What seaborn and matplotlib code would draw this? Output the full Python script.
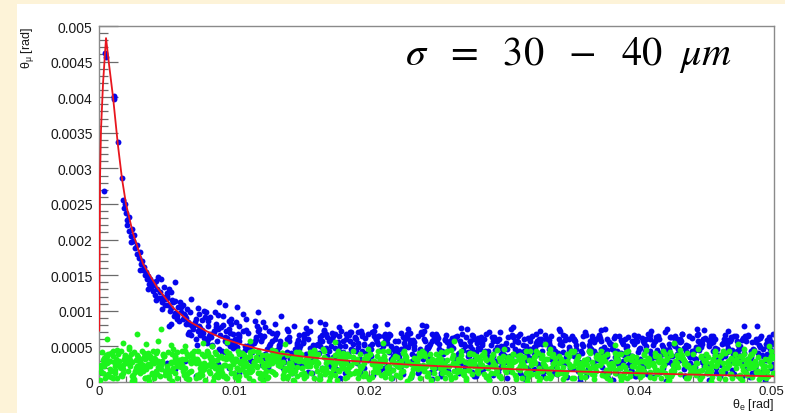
import matplotlib
matplotlib.use("Agg")
import matplotlib.pyplot as plt
from matplotlib.patches import Rectangle
from matplotlib.ticker import MultipleLocator, FuncFormatter
from matplotlib.transforms import ScaledTranslation
import pandas as pd
import seaborn as sns

# ---------------------------------------------------------------------------
# Data (angles in mrad; converted to rad when plotted)
# ---------------------------------------------------------------------------

# Fitted correlation curve theta_mu(theta_e)
fit_x = [0.02, 0.05, 0.08, 0.15, 0.30, 0.52, 0.75, 1.04, 1.40, 1.70, 2.00, 2.50,
         3.26, 4.30, 5.50, 6.70, 8.00, 9.20, 10.5, 11.7, 13.4, 15.0, 16.5, 18.4,
         20.8, 23.3, 25.5, 28.2, 30.7, 35.0, 40.6, 45.0, 50.0]
fit_y = [0.72, 2.00, 2.90, 3.55, 4.20, 4.83, 4.45, 4.00, 3.33, 2.86, 2.50, 2.10,
         1.66, 1.33, 1.04, 0.85, 0.71, 0.61, 0.53, 0.47, 0.40, 0.36, 0.33, 0.30,
         0.27, 0.24, 0.22, 0.20, 0.18, 0.15, 0.12, 0.10, 0.08]

# Reconstructed events (blue)
blue_x = [
    # steep part along the curve
    0.05, 0.40, 0.42, 0.55, 1.08, 1.14, 1.12, 1.42, 1.72, 1.80, 1.85, 1.95,
    2.00, 2.05, 2.10, 2.20, 2.25, 2.35, 2.45, 2.55, 2.60, 2.70, 2.80, 2.85,
    2.95, 3.05, 3.10, 3.20, 3.25, 3.35, 3.40, 3.50, 3.55, 3.65, 3.70, 3.80,
    3.85, 3.95, 4.00, 4.10, 4.15, 4.25, 4.30, 4.40, 4.45, 4.55, 4.60, 4.65,
    4.75, 4.80, 4.90, 4.95, 3.00, 2.40, 3.60, 4.20, 4.70, 5.00,
    # knee
    5.1, 5.8, 5.4, 5.0, 5.6, 5.3, 5.9, 5.2, 5.7, 5.5, 5.35, 5.65,
    6.3, 6.9, 6.5, 6.2, 6.7, 6.0, 6.6, 6.4, 6.8, 6.1, 6.45, 6.75,
    7.6, 7.2, 7.8, 7.4, 7.0, 7.9, 7.3, 7.7, 7.1, 7.5, 7.85, 7.25,
    8.5, 8.0, 8.7, 8.3, 8.9, 8.2, 8.8, 8.1, 8.6, 8.4, 8.05, 8.95,
    9.8, 9.4, 9.1, 9.6, 9.3, 9.7, 9.0, 9.5, 9.9, 9.2, 9.45, 9.75,
    10.1, 10.8, 10.4, 10.0, 10.6, 10.3, 10.9, 10.2, 10.7, 10.5, 10.35, 10.65,
    11.3, 11.9, 11.5, 11.2, 11.7, 11.0, 11.6, 11.4, 11.8, 11.1, 11.55, 11.85,
    12.6, 12.2, 12.8, 12.4, 12.0, 12.9, 12.3, 12.7, 12.1, 12.5, 12.65, 12.15,
    13.5, 13.0, 13.7, 13.3, 13.9, 13.2, 13.8, 13.1, 13.6, 13.4, 13.05, 13.95,
    14.8, 14.4, 14.1, 14.6, 14.3, 14.7, 14.0, 14.5, 14.9, 14.2, 14.45, 14.75,
    # flat band
    15.1, 15.8, 15.4, 15.0, 15.6, 15.3, 15.9, 15.2, 15.7, 15.5, 15.15, 15.45, 15.85, 15.65,
    16.3, 16.9, 16.5, 16.2, 16.7, 16.0, 16.6, 16.4, 16.8, 16.1, 16.55, 16.95, 16.35, 16.75,
    17.6, 17.2, 17.8, 17.4, 17.0, 17.9, 17.3, 17.7, 17.1, 17.5, 17.85, 17.25, 17.65, 17.45,
    18.5, 18.0, 18.7, 18.3, 18.9, 18.2, 18.8, 18.1, 18.6, 18.4, 18.05, 18.75, 18.35, 18.95,
    19.8, 19.4, 19.1, 19.6, 19.3, 19.7, 19.0, 19.5, 19.9, 19.2, 19.65, 19.15, 19.45, 19.85,
    20.1, 20.8, 20.4, 20.0, 20.6, 20.3, 20.9, 20.2, 20.7, 20.5, 20.15, 20.45, 20.85, 20.65,
    21.3, 21.9, 21.5, 21.2, 21.7, 21.0, 21.6, 21.4, 21.8, 21.1, 21.55, 21.95, 21.35, 21.75,
    22.6, 22.2, 22.8, 22.4, 22.0, 22.9, 22.3, 22.7, 22.1, 22.5, 22.85, 22.25, 22.65, 22.45,
    23.5, 23.0, 23.7, 23.3, 23.9, 23.2, 23.8, 23.1, 23.6, 23.4, 23.05, 23.75, 23.35, 23.95,
    24.8, 24.4, 24.1, 24.6, 24.3, 24.7, 24.0, 24.5, 24.9, 24.2, 24.65, 24.15, 24.45, 24.85,
    25.1, 25.8, 25.4, 25.0, 25.6, 25.3, 25.9, 25.2, 25.7, 25.5, 25.15, 25.45, 25.85, 25.65,
    26.3, 26.9, 26.5, 26.2, 26.7, 26.0, 26.6, 26.4, 26.8, 26.1, 26.55, 26.95, 26.35, 26.75,
    27.6, 27.2, 27.8, 27.4, 27.0, 27.9, 27.3, 27.7, 27.1, 27.5, 27.85, 27.25, 27.65, 27.45,
    28.5, 28.0, 28.7, 28.3, 28.9, 28.2, 28.8, 28.1, 28.6, 28.4, 28.05, 28.75, 28.35, 28.95,
    29.8, 29.4, 29.1, 29.6, 29.3, 29.7, 29.0, 29.5, 29.9, 29.2, 29.65, 29.15, 29.45, 29.85,
    30.1, 30.8, 30.4, 30.0, 30.6, 30.3, 30.9, 30.2, 30.7, 30.5, 30.15, 30.45, 30.85, 30.65,
    31.3, 31.9, 31.5, 31.2, 31.7, 31.0, 31.6, 31.4, 31.8, 31.1, 31.55, 31.95, 31.35, 31.75,
    32.6, 32.2, 32.8, 32.4, 32.0, 32.9, 32.3, 32.7, 32.1, 32.5, 32.85, 32.25, 32.65, 32.45,
    33.5, 33.0, 33.7, 33.3, 33.9, 33.2, 33.8, 33.1, 33.6, 33.4, 33.05, 33.75, 33.35, 33.95,
    34.8, 34.4, 34.1, 34.6, 34.3, 34.7, 34.0, 34.5, 34.9, 34.2, 34.65, 34.15, 34.45, 34.85,
    35.1, 35.8, 35.4, 35.0, 35.6, 35.3, 35.9, 35.2, 35.7, 35.5, 35.15, 35.45, 35.85, 35.65,
    36.3, 36.9, 36.5, 36.2, 36.7, 36.0, 36.6, 36.4, 36.8, 36.1, 36.55, 36.95, 36.35, 36.75,
    37.6, 37.2, 37.8, 37.4, 37.0, 37.9, 37.3, 37.7, 37.1, 37.5, 37.85, 37.25, 37.65, 37.45,
    38.5, 38.0, 38.7, 38.3, 38.9, 38.2, 38.8, 38.1, 38.6, 38.4, 38.05, 38.75, 38.35, 38.95,
    39.8, 39.4, 39.1, 39.6, 39.3, 39.7, 39.0, 39.5, 39.9, 39.2, 39.65, 39.15, 39.45, 39.85,
    40.1, 40.8, 40.4, 40.0, 40.6, 40.3, 40.9, 40.2, 40.7, 40.5, 40.15, 40.45, 40.85, 40.65,
    41.3, 41.9, 41.5, 41.2, 41.7, 41.0, 41.6, 41.4, 41.8, 41.1, 41.55, 41.95, 41.35, 41.75,
    42.6, 42.2, 42.8, 42.4, 42.0, 42.9, 42.3, 42.7, 42.1, 42.5, 42.85, 42.25, 42.65, 42.45,
    43.5, 43.0, 43.7, 43.3, 43.9, 43.2, 43.8, 43.1, 43.6, 43.4, 43.05, 43.75, 43.35, 43.95,
    44.8, 44.4, 44.1, 44.6, 44.3, 44.7, 44.0, 44.5, 44.9, 44.2, 44.65, 44.15, 44.45, 44.85,
    45.1, 45.8, 45.4, 45.0, 45.6, 45.3, 45.9, 45.2, 45.7, 45.5, 45.15, 45.45, 45.85, 45.65,
    46.3, 46.9, 46.5, 46.2, 46.7, 46.0, 46.6, 46.4, 46.8, 46.1, 46.55, 46.95, 46.35, 46.75,
    47.6, 47.2, 47.8, 47.4, 47.0, 47.9, 47.3, 47.7, 47.1, 47.5, 47.85, 47.25, 47.65, 47.45,
    48.5, 48.0, 48.7, 48.3, 48.9, 48.2, 48.8, 48.1, 48.6, 48.4, 48.05, 48.75, 48.35, 48.95,
    49.8, 49.4, 49.1, 49.6, 49.3, 49.7, 49.0, 49.5, 49.9, 49.2, 49.65, 49.15, 49.45, 49.85,
    # stragglers
    16.4, 21.3, 24.2, 26.8, 30.5, 34.1, 37.2, 40.9, 44.3, 46.6, 49.9, 19.0,
    13.5, 11.8, 10.2, 8.9, 9.3, 17.8, 28.9, 32.7, 42.1, 47.8, 5.6, 7.2,
    8.8, 10.4, 12.1, 6.4, 5.0, 9.6, 11.2,
    # second pass over knee and band
    5.25, 5.75, 5.05, 5.55, 5.35, 5.85, 5.15, 5.65,
    6.45, 6.95, 6.2, 6.7, 6.1, 6.6, 6.3, 6.8,
    7.05, 7.5, 7.9, 7.35, 7.65, 7.15, 7.8, 7.4,
    8.25, 8.75, 8.05, 8.55, 8.35, 8.85, 8.15, 8.65,
    9.45, 9.95, 9.2, 9.7, 9.1, 9.6, 9.3, 9.8,
    10.05, 10.5, 10.9, 10.35, 10.65, 10.15, 10.8, 10.4,
    11.25, 11.75, 11.05, 11.55, 11.35, 11.85, 11.15, 11.65,
    12.45, 12.95, 12.2, 12.7, 12.1, 12.6, 12.3, 12.8,
    13.05, 13.5, 13.9, 13.35, 13.65, 13.15, 13.8, 13.4,
    14.25, 14.75, 14.05, 14.55, 14.35, 14.85, 14.15, 14.65,
    15.45, 15.95, 15.2, 15.7, 15.1, 15.6, 15.3, 15.8,
    16.05, 16.5, 16.9, 16.35, 16.65, 16.15, 16.8, 16.4,
    17.25, 17.75, 17.05, 17.55, 17.35, 17.85, 17.15, 17.65,
    18.45, 18.95, 18.2, 18.7, 18.1, 18.6, 18.3, 18.8,
    19.05, 19.5, 19.9, 19.35, 19.65, 19.15, 19.8, 19.4,
    20.25, 20.75, 20.05, 20.55, 20.35, 20.85, 20.15, 20.65,
    21.45, 21.95, 21.2, 21.7, 21.1, 21.6, 21.3, 21.8,
    22.05, 22.5, 22.9, 22.35, 22.65, 22.15, 22.8, 22.4,
    23.25, 23.75, 23.05, 23.55, 23.35, 23.85, 23.15, 23.65,
    24.45, 24.95, 24.2, 24.7, 24.1, 24.6, 24.3, 24.8,
    25.05, 25.5, 25.9, 25.35, 25.65, 25.15, 25.8, 25.4,
    26.25, 26.75, 26.05, 26.55, 26.35, 26.85, 26.15, 26.65,
    27.45, 27.95, 27.2, 27.7, 27.1, 27.6, 27.3, 27.8,
    28.05, 28.5, 28.9, 28.35, 28.65, 28.15, 28.8, 28.4,
    29.25, 29.75, 29.05, 29.55, 29.35, 29.85, 29.15, 29.65,
    30.45, 30.95, 30.2, 30.7, 30.1, 30.6, 30.3, 30.8,
    31.05, 31.5, 31.9, 31.35, 31.65, 31.15, 31.8, 31.4,
    32.25, 32.75, 32.05, 32.55, 32.35, 32.85, 32.15, 32.65,
    33.45, 33.95, 33.2, 33.7, 33.1, 33.6, 33.3, 33.8,
    34.05, 34.5, 34.9, 34.35, 34.65, 34.15, 34.8, 34.4,
    35.25, 35.75, 35.05, 35.55, 35.35, 35.85, 35.15, 35.65,
    36.45, 36.95, 36.2, 36.7, 36.1, 36.6, 36.3, 36.8,
    37.05, 37.5, 37.9, 37.35, 37.65, 37.15, 37.8, 37.4,
    38.25, 38.75, 38.05, 38.55, 38.35, 38.85, 38.15, 38.65,
    39.45, 39.95, 39.2, 39.7, 39.1, 39.6, 39.3, 39.8,
    40.05, 40.5, 40.9, 40.35, 40.65, 40.15, 40.8, 40.4,
    41.25, 41.75, 41.05, 41.55, 41.35, 41.85, 41.15, 41.65,
    42.45, 42.95, 42.2, 42.7, 42.1, 42.6, 42.3, 42.8,
    43.05, 43.5, 43.9, 43.35, 43.65, 43.15, 43.8, 43.4,
    44.25, 44.75, 44.05, 44.55, 44.35, 44.85, 44.15, 44.65,
    45.45, 45.95, 45.2, 45.7, 45.1, 45.6, 45.3, 45.8,
    46.05, 46.5, 46.9, 46.35, 46.65, 46.15, 46.8, 46.4,
    47.25, 47.75, 47.05, 47.55, 47.35, 47.85, 47.15, 47.65,
    48.45, 48.95, 48.2, 48.7, 48.1, 48.6, 48.3, 48.8,
    49.05, 49.5, 49.9, 49.35, 49.65, 49.15, 49.8, 49.4,
]
blue_y = [
    0.17, 2.68, 4.62, 4.56, 4.00, 4.02, 3.98, 3.37, 2.86, 2.56, 2.45, 2.50,
    2.38, 2.28, 2.20, 2.32, 2.12, 2.05, 2.15, 1.98, 2.06, 1.88, 1.93, 1.80,
    1.74, 1.82, 1.66, 1.70, 1.58, 1.62, 1.50, 1.55, 1.44, 1.49, 1.38, 1.45,
    1.33, 1.40, 1.28, 1.36, 1.22, 1.42, 1.30, 1.47, 1.18, 1.26, 1.44, 1.12,
    1.20, 1.33, 1.08, 1.16, 1.58, 1.96, 1.30, 1.15, 1.02, 1.25,
    1.08, 0.92, 1.15, 1.21, 0.97, 1.04, 0.86, 1.30, 0.95, 1.12, 0.82, 1.40,
    0.95, 0.78, 1.02, 0.88, 0.70, 1.12, 0.84, 0.92, 0.66, 1.05, 0.81, 0.98,
    0.73, 0.88, 0.62, 0.95, 0.80, 0.57, 1.04, 0.69, 0.84, 0.76, 0.91, 0.52,
    0.70, 0.55, 0.82, 0.63, 0.47, 0.91, 0.74, 0.60, 0.98, 0.52, 0.78, 0.66,
    0.58, 0.72, 0.44, 0.86, 0.63, 0.51, 0.77, 0.39, 0.67, 0.92, 0.55, 0.81,
    0.61, 0.45, 0.78, 0.53, 0.34, 0.68, 0.88, 0.49, 0.72, 0.40, 0.57, 0.95,
    0.42, 0.66, 0.55, 0.31, 0.79, 0.48, 0.60, 0.27, 0.71, 0.52, 0.86, 0.38,
    0.50, 0.34, 0.69, 0.25, 0.58, 0.43, 0.77, 0.37, 0.62, 0.21, 0.47, 0.84,
    0.39, 0.61, 0.28, 0.52, 0.74, 0.45, 0.18, 0.66, 0.33, 0.57, 0.81, 0.42,
    0.47, 0.29, 0.63, 0.36, 0.12, 0.55, 0.71, 0.24, 0.50, 0.40, 0.78, 0.59,
    0.56, 0.37, 0.69, 0.24, 0.48, 0.76, 0.31, 0.62, 0.43, 0.14, 0.66, 0.40, 0.52, 0.85,
    0.41, 0.63, 0.19, 0.54, 0.72, 0.33, 0.46, 0.09, 0.67, 0.38, 0.58, 0.26, 0.50, 0.81,
    0.30, 0.51, 0.64, 0.16, 0.43, 0.71, 0.35, 0.56, 0.23, 0.48, 0.06, 0.60, 0.39, 0.68,
    0.66, 0.21, 0.47, 0.60, 0.33, 0.12, 0.53, 0.42, 0.70, 0.28, 0.58, 0.45, 0.17, 0.63,
    0.38, 0.72, 0.27, 0.52, 0.15, 0.62, 0.44, 0.68, 0.31, 0.55, 0.20, 0.49, 0.65, 0.35,
    0.50, 0.31, 0.64, 0.39, 0.56, 0.10, 0.45, 0.70, 0.24, 0.60, 0.36, 0.79, 0.17, 0.53,
    0.23, 0.58, 0.42, 0.68, 0.05, 0.50, 0.32, 0.63, 0.47, 0.19, 0.66, 0.40, 0.55, 0.29,
    0.55, 0.34, 0.67, 0.22, 0.48, 0.75, 0.30, 0.61, 0.42, 0.11, 0.64, 0.38, 0.51, 0.27,
    0.37, 0.59, 0.16, 0.50, 0.68, 0.29, 0.43, 0.07, 0.64, 0.34, 0.55, 0.23, 0.46, 0.80,
    0.27, 0.48, 0.61, 0.14, 0.40, 0.67, 0.32, 0.53, 0.20, 0.45, 0.04, 0.58, 0.36, 0.64,
    0.62, 0.18, 0.43, 0.56, 0.30, 0.09, 0.49, 0.38, 0.66, 0.25, 0.54, 0.41, 0.15, 0.59,
    0.34, 0.67, 0.23, 0.48, 0.12, 0.58, 0.40, 0.63, 0.27, 0.51, 0.17, 0.45, 0.61, 0.31,
    0.46, 0.28, 0.61, 0.36, 0.53, 0.08, 0.42, 0.65, 0.21, 0.57, 0.33, 0.74, 0.14, 0.50,
    0.20, 0.55, 0.39, 0.63, 0.03, 0.47, 0.29, 0.60, 0.44, 0.16, 0.62, 0.37, 0.52, 0.26,
    0.51, 0.30, 0.63, 0.19, 0.45, 0.70, 0.28, 0.57, 0.40, 0.10, 0.60, 0.36, 0.49, 0.24,
    0.37, 0.58, 0.15, 0.50, 0.66, 0.29, 0.42, 0.06, 0.63, 0.34, 0.55, 0.22, 0.46, 0.77,
    0.26, 0.47, 0.60, 0.13, 0.39, 0.65, 0.31, 0.52, 0.20, 0.44, 0.04, 0.57, 0.35, 0.62,
    0.60, 0.18, 0.43, 0.55, 0.30, 0.09, 0.49, 0.38, 0.64, 0.25, 0.54, 0.41, 0.15, 0.58,
    0.33, 0.66, 0.22, 0.47, 0.11, 0.57, 0.39, 0.62, 0.26, 0.50, 0.16, 0.44, 0.59, 0.30,
    0.45, 0.27, 0.60, 0.35, 0.52, 0.07, 0.41, 0.64, 0.20, 0.56, 0.32, 0.72, 0.13, 0.49,
    0.19, 0.54, 0.38, 0.63, 0.02, 0.46, 0.28, 0.59, 0.43, 0.15, 0.61, 0.36, 0.51, 0.25,
    0.52, 0.31, 0.64, 0.18, 0.44, 0.70, 0.27, 0.58, 0.39, 0.09, 0.61, 0.35, 0.48, 0.23,
    0.36, 0.57, 0.14, 0.49, 0.66, 0.28, 0.41, 0.05, 0.62, 0.33, 0.54, 0.21, 0.45, 0.74,
    0.25, 0.46, 0.59, 0.12, 0.38, 0.65, 0.30, 0.51, 0.19, 0.43, 0.03, 0.56, 0.34, 0.61,
    0.61, 0.17, 0.42, 0.55, 0.29, 0.08, 0.48, 0.37, 0.64, 0.24, 0.53, 0.40, 0.14, 0.58,
    0.33, 0.66, 0.22, 0.47, 0.11, 0.57, 0.39, 0.62, 0.26, 0.50, 0.16, 0.44, 0.60, 0.30,
    0.45, 0.27, 0.60, 0.35, 0.52, 0.07, 0.41, 0.65, 0.20, 0.56, 0.32, 0.70, 0.13, 0.49,
    0.19, 0.54, 0.38, 0.63, 0.02, 0.46, 0.28, 0.59, 0.43, 0.15, 0.61, 0.36, 0.51, 0.25,
    0.52, 0.31, 0.64, 0.18, 0.44, 0.68, 0.27, 0.58, 0.39, 0.09, 0.61, 0.35, 0.48, 0.23,
    0.36, 0.57, 0.14, 0.49, 0.66, 0.28, 0.41, 0.05, 0.62, 0.33, 0.54, 0.21, 0.45, 0.73,
    0.25, 0.46, 0.59, 0.12, 0.38, 0.64, 0.30, 0.51, 0.19, 0.43, 0.03, 0.56, 0.34, 0.61,
    0.61, 0.17, 0.42, 0.55, 0.29, 0.08, 0.48, 0.37, 0.63, 0.24, 0.53, 0.40, 0.14, 0.58,
    0.33, 0.65, 0.22, 0.47, 0.11, 0.57, 0.39, 0.62, 0.26, 0.50, 0.16, 0.44, 0.59, 0.30,
    0.45, 0.27, 0.60, 0.35, 0.52, 0.07, 0.41, 0.64, 0.20, 0.56, 0.32, 0.78, 0.13, 0.49,
    0.19, 0.54, 0.38, 0.63, 0.02, 0.46, 0.28, 0.59, 0.43, 0.15, 0.61, 0.36, 0.51, 0.25,
    0.84, 0.82, 0.78, 0.76, 0.74, 0.75, 0.73, 0.71, 0.75, 0.72, 0.68, 0.80,
    0.93, 0.98, 1.05, 1.12, 1.08, 0.77, 0.70, 0.72, 0.74, 0.79, 0.18, 0.09,
    0.25, 0.12, 0.06, 0.30, 0.26, 0.20, 0.16,
    1.00, 0.88, 1.18, 0.93, 1.26, 1.06, 0.79, 1.14,
    0.90, 0.74, 1.08, 0.82, 0.99, 0.68, 0.94, 1.16,
    0.80, 0.66, 0.98, 0.71, 0.87, 0.60, 1.00, 0.78,
    0.68, 0.57, 0.86, 0.72, 0.50, 0.94, 0.64, 0.77,
    0.62, 0.48, 0.80, 0.69, 0.42, 0.74, 0.57, 0.88,
    0.56, 0.41, 0.73, 0.63, 0.37, 0.84, 0.50, 0.66,
    0.50, 0.36, 0.69, 0.58, 0.29, 0.75, 0.45, 0.63,
    0.46, 0.30, 0.64, 0.53, 0.24, 0.72, 0.40, 0.57,
    0.43, 0.26, 0.60, 0.49, 0.20, 0.69, 0.36, 0.54,
    0.41, 0.22, 0.57, 0.46, 0.17, 0.66, 0.33, 0.52,
    0.60, 0.45, 0.68, 0.32, 0.55, 0.71, 0.40, 0.12,
    0.52, 0.66, 0.37, 0.59, 0.73, 0.26, 0.48, 0.63,
    0.69, 0.43, 0.57, 0.18, 0.64, 0.51, 0.61, 0.35,
    0.39, 0.62, 0.50, 0.70, 0.31, 0.57, 0.67, 0.45,
    0.61, 0.44, 0.67, 0.33, 0.54, 0.70, 0.41, 0.11,
    0.53, 0.65, 0.36, 0.60, 0.72, 0.27, 0.47, 0.64,
    0.68, 0.42, 0.58, 0.17, 0.65, 0.50, 0.60, 0.36,
    0.40, 0.63, 0.49, 0.69, 0.30, 0.58, 0.66, 0.46,
    0.59, 0.46, 0.69, 0.31, 0.56, 0.70, 0.39, 0.13,
    0.51, 0.67, 0.38, 0.58, 0.71, 0.25, 0.49, 0.62,
    0.64, 0.39, 0.53, 0.13, 0.60, 0.47, 0.56, 0.31,
    0.35, 0.58, 0.46, 0.65, 0.27, 0.53, 0.62, 0.41,
    0.57, 0.42, 0.63, 0.29, 0.51, 0.66, 0.36, 0.08,
    0.48, 0.61, 0.33, 0.55, 0.68, 0.22, 0.44, 0.59,
    0.63, 0.40, 0.52, 0.14, 0.61, 0.46, 0.57, 0.30,
    0.36, 0.57, 0.47, 0.64, 0.28, 0.52, 0.63, 0.40,
    0.56, 0.43, 0.62, 0.30, 0.50, 0.67, 0.35, 0.09,
    0.49, 0.60, 0.34, 0.54, 0.67, 0.23, 0.45, 0.58,
    0.65, 0.38, 0.54, 0.12, 0.59, 0.48, 0.55, 0.32,
    0.34, 0.59, 0.45, 0.66, 0.26, 0.54, 0.61, 0.42,
    0.58, 0.41, 0.64, 0.28, 0.52, 0.65, 0.37, 0.07,
    0.47, 0.62, 0.32, 0.56, 0.66, 0.21, 0.43, 0.60,
    0.64, 0.39, 0.53, 0.13, 0.60, 0.47, 0.56, 0.31,
    0.35, 0.58, 0.46, 0.65, 0.27, 0.53, 0.62, 0.41,
    0.57, 0.42, 0.63, 0.29, 0.51, 0.66, 0.36, 0.08,
    0.48, 0.61, 0.33, 0.55, 0.68, 0.22, 0.44, 0.59,
    0.63, 0.40, 0.52, 0.14, 0.61, 0.46, 0.57, 0.30,
    0.36, 0.57, 0.47, 0.64, 0.28, 0.52, 0.63, 0.40,
    0.56, 0.43, 0.62, 0.30, 0.50, 0.67, 0.35, 0.09,
    0.49, 0.60, 0.34, 0.54, 0.67, 0.23, 0.45, 0.58,
    0.65, 0.38, 0.54, 0.12, 0.59, 0.48, 0.55, 0.32,
    0.34, 0.59, 0.45, 0.66, 0.26, 0.54, 0.61, 0.42,
    0.58, 0.41, 0.64, 0.28, 0.52, 0.65, 0.37, 0.07,
    0.47, 0.62, 0.32, 0.56, 0.66, 0.21, 0.43, 0.60,
    0.64, 0.39, 0.53, 0.13, 0.60, 0.47, 0.56, 0.31,
]

# Background events (green)
green_x = [
    0.1, 0.7, 0.4, 0.9, 0.2, 0.6, 0.05, 0.5, 0.8, 0.3, 0.65, 0.35,
    1.5, 1.2, 1.8, 1.3, 1.0, 1.9, 1.6, 1.1, 1.4, 1.7, 1.15, 1.85,
    2.9, 2.4, 2.1, 2.6, 2.3, 2.7, 2.2, 2.8, 2.5, 2.0, 2.45, 2.75,
    3.3, 3.8, 3.6, 3.0, 3.5, 3.2, 3.9, 3.4, 3.1, 3.7, 3.55, 3.25,
    4.7, 4.0, 4.3, 4.5, 4.8, 4.1, 4.4, 4.9, 4.2, 4.6, 4.95, 4.05,
    5.1, 5.7, 5.4, 5.9, 5.2, 5.6, 5.0, 5.5, 5.8, 5.3, 5.65, 5.35,
    6.5, 6.2, 6.8, 6.3, 6.0, 6.9, 6.6, 6.1, 6.4, 6.7, 6.15, 6.85,
    7.9, 7.4, 7.1, 7.6, 7.3, 7.7, 7.2, 7.8, 7.5, 7.0, 7.45, 7.75,
    8.3, 8.8, 8.6, 8.0, 8.5, 8.2, 8.9, 8.4, 8.1, 8.7, 8.55, 8.25,
    9.7, 9.0, 9.3, 9.5, 9.8, 9.1, 9.4, 9.9, 9.2, 9.6, 9.95, 9.05,
    10.1, 10.7, 10.4, 10.9, 10.2, 10.6, 10.0, 10.5, 10.8, 10.3, 10.65, 10.35,
    11.5, 11.2, 11.8, 11.3, 11.0, 11.9, 11.6, 11.1, 11.4, 11.7, 11.15, 11.85,
    12.9, 12.4, 12.1, 12.6, 12.3, 12.7, 12.2, 12.8, 12.5, 12.0, 12.45, 12.75,
    13.3, 13.8, 13.6, 13.0, 13.5, 13.2, 13.9, 13.4, 13.1, 13.7, 13.55, 13.25,
    14.7, 14.0, 14.3, 14.5, 14.8, 14.1, 14.4, 14.9, 14.2, 14.6, 14.95, 14.05,
    15.1, 15.7, 15.4, 15.9, 15.2, 15.6, 15.0, 15.5, 15.8, 15.3, 15.65, 15.35,
    16.5, 16.2, 16.8, 16.3, 16.0, 16.9, 16.6, 16.1, 16.4, 16.7, 16.15, 16.85,
    17.9, 17.4, 17.1, 17.6, 17.3, 17.7, 17.2, 17.8, 17.5, 17.0, 17.45, 17.75,
    18.3, 18.8, 18.6, 18.0, 18.5, 18.2, 18.9, 18.4, 18.1, 18.7, 18.55, 18.25,
    19.7, 19.0, 19.3, 19.5, 19.8, 19.1, 19.4, 19.9, 19.2, 19.6, 19.95, 19.05,
    20.1, 20.7, 20.4, 20.9, 20.2, 20.6, 20.0, 20.5, 20.8, 20.3, 20.65, 20.35,
    21.5, 21.2, 21.8, 21.3, 21.0, 21.9, 21.6, 21.1, 21.4, 21.7, 21.15, 21.85,
    22.9, 22.4, 22.1, 22.6, 22.3, 22.7, 22.2, 22.8, 22.5, 22.0, 22.45, 22.75,
    23.3, 23.8, 23.6, 23.0, 23.5, 23.2, 23.9, 23.4, 23.1, 23.7, 23.55, 23.25,
    24.7, 24.0, 24.3, 24.5, 24.8, 24.1, 24.4, 24.9, 24.2, 24.6, 24.95, 24.05,
    25.1, 25.7, 25.4, 25.9, 25.2, 25.6, 25.0, 25.5, 25.8, 25.3, 25.65, 25.35,
    26.5, 26.2, 26.8, 26.3, 26.0, 26.9, 26.6, 26.1, 26.4, 26.7, 26.15, 26.85,
    27.9, 27.4, 27.1, 27.6, 27.3, 27.7, 27.2, 27.8, 27.5, 27.0, 27.45, 27.75,
    28.3, 28.8, 28.6, 28.0, 28.5, 28.2, 28.9, 28.4, 28.1, 28.7, 28.55, 28.25,
    29.7, 29.0, 29.3, 29.5, 29.8, 29.1, 29.4, 29.9, 29.2, 29.6, 29.95, 29.05,
    30.1, 30.7, 30.4, 30.9, 30.2, 30.6, 30.0, 30.5, 30.8, 30.3, 30.65, 30.35,
    31.5, 31.2, 31.8, 31.3, 31.0, 31.9, 31.6, 31.1, 31.4, 31.7, 31.15, 31.85,
    32.9, 32.4, 32.1, 32.6, 32.3, 32.7, 32.2, 32.8, 32.5, 32.0, 32.45, 32.75,
    33.3, 33.8, 33.6, 33.0, 33.5, 33.2, 33.9, 33.4, 33.1, 33.7, 33.55, 33.25,
    34.7, 34.0, 34.3, 34.5, 34.8, 34.1, 34.4, 34.9, 34.2, 34.6, 34.95, 34.05,
    35.1, 35.7, 35.4, 35.9, 35.2, 35.6, 35.0, 35.5, 35.8, 35.3, 35.65, 35.35,
    36.5, 36.2, 36.8, 36.3, 36.0, 36.9, 36.6, 36.1, 36.4, 36.7, 36.15, 36.85,
    37.9, 37.4, 37.1, 37.6, 37.3, 37.7, 37.2, 37.8, 37.5, 37.0, 37.45, 37.75,
    38.3, 38.8, 38.6, 38.0, 38.5, 38.2, 38.9, 38.4, 38.1, 38.7, 38.55, 38.25,
    39.7, 39.0, 39.3, 39.5, 39.8, 39.1, 39.4, 39.9, 39.2, 39.6, 39.95, 39.05,
    40.1, 40.7, 40.4, 40.9, 40.2, 40.6, 40.0, 40.5, 40.8, 40.3, 40.65, 40.35,
    41.5, 41.2, 41.8, 41.3, 41.0, 41.9, 41.6, 41.1, 41.4, 41.7, 41.15, 41.85,
    42.9, 42.4, 42.1, 42.6, 42.3, 42.7, 42.2, 42.8, 42.5, 42.0, 42.45, 42.75,
    43.3, 43.8, 43.6, 43.0, 43.5, 43.2, 43.9, 43.4, 43.1, 43.7, 43.55, 43.25,
    44.7, 44.0, 44.3, 44.5, 44.8, 44.1, 44.4, 44.9, 44.2, 44.6, 44.95, 44.05,
    45.1, 45.7, 45.4, 45.9, 45.2, 45.6, 45.0, 45.5, 45.8, 45.3, 45.65, 45.35,
    46.5, 46.2, 46.8, 46.3, 46.0, 46.9, 46.6, 46.1, 46.4, 46.7, 46.15, 46.85,
    47.9, 47.4, 47.1, 47.6, 47.3, 47.7, 47.2, 47.8, 47.5, 47.0, 47.45, 47.75,
    48.3, 48.8, 48.6, 48.0, 48.5, 48.2, 48.9, 48.4, 48.1, 48.7, 48.55, 48.25,
    49.7, 49.0, 49.3, 49.5, 49.8, 49.1, 49.4, 49.9, 49.2, 49.6, 49.95, 49.05,
    0.6, 2.8, 4.4, 4.6, 5.3, 6.4, 7.7, 9.5, 11.2, 13.8, 17.5, 21.0,
    26.3, 33.0, 38.2, 42.6, 47.3, 49.6, 1.8, 3.5, 2.2, 8.4,
    # second pass
    0.05, 0.5, 0.9, 0.35, 0.65, 0.15, 0.8, 0.4,
    1.25, 1.75, 1.05, 1.55, 1.35, 1.85, 1.15, 1.65,
    2.45, 2.95, 2.2, 2.7, 2.1, 2.6, 2.3, 2.8,
    3.05, 3.5, 3.9, 3.35, 3.65, 3.15, 3.8, 3.4,
    4.25, 4.75, 4.05, 4.55, 4.35, 4.85, 4.15, 4.65,
    5.45, 5.95, 5.2, 5.7, 5.1, 5.6, 5.3, 5.8,
    6.05, 6.5, 6.9, 6.35, 6.65, 6.15, 6.8, 6.4,
    7.25, 7.75, 7.05, 7.55, 7.35, 7.85, 7.15, 7.65,
    8.45, 8.95, 8.2, 8.7, 8.1, 8.6, 8.3, 8.8,
    9.05, 9.5, 9.9, 9.35, 9.65, 9.15, 9.8, 9.4,
    10.25, 10.75, 10.05, 10.55, 10.35, 10.85, 10.15, 10.65,
    11.45, 11.95, 11.2, 11.7, 11.1, 11.6, 11.3, 11.8,
    12.05, 12.5, 12.9, 12.35, 12.65, 12.15, 12.8, 12.4,
    13.25, 13.75, 13.05, 13.55, 13.35, 13.85, 13.15, 13.65,
    14.45, 14.95, 14.2, 14.7, 14.1, 14.6, 14.3, 14.8,
    15.05, 15.5, 15.9, 15.35, 15.65, 15.15, 15.8, 15.4,
    16.25, 16.75, 16.05, 16.55, 16.35, 16.85, 16.15, 16.65,
    17.45, 17.95, 17.2, 17.7, 17.1, 17.6, 17.3, 17.8,
    18.05, 18.5, 18.9, 18.35, 18.65, 18.15, 18.8, 18.4,
    19.25, 19.75, 19.05, 19.55, 19.35, 19.85, 19.15, 19.65,
    20.45, 20.95, 20.2, 20.7, 20.1, 20.6, 20.3, 20.8,
    21.05, 21.5, 21.9, 21.35, 21.65, 21.15, 21.8, 21.4,
    22.25, 22.75, 22.05, 22.55, 22.35, 22.85, 22.15, 22.65,
    23.45, 23.95, 23.2, 23.7, 23.1, 23.6, 23.3, 23.8,
    24.05, 24.5, 24.9, 24.35, 24.65, 24.15, 24.8, 24.4,
    25.25, 25.75, 25.05, 25.55, 25.35, 25.85, 25.15, 25.65,
    26.45, 26.95, 26.2, 26.7, 26.1, 26.6, 26.3, 26.8,
    27.05, 27.5, 27.9, 27.35, 27.65, 27.15, 27.8, 27.4,
    28.25, 28.75, 28.05, 28.55, 28.35, 28.85, 28.15, 28.65,
    29.45, 29.95, 29.2, 29.7, 29.1, 29.6, 29.3, 29.8,
    30.05, 30.5, 30.9, 30.35, 30.65, 30.15, 30.8, 30.4,
    31.25, 31.75, 31.05, 31.55, 31.35, 31.85, 31.15, 31.65,
    32.45, 32.95, 32.2, 32.7, 32.1, 32.6, 32.3, 32.8,
    33.05, 33.5, 33.9, 33.35, 33.65, 33.15, 33.8, 33.4,
    34.25, 34.75, 34.05, 34.55, 34.35, 34.85, 34.15, 34.65,
    35.45, 35.95, 35.2, 35.7, 35.1, 35.6, 35.3, 35.8,
    36.05, 36.5, 36.9, 36.35, 36.65, 36.15, 36.8, 36.4,
    37.25, 37.75, 37.05, 37.55, 37.35, 37.85, 37.15, 37.65,
    38.45, 38.95, 38.2, 38.7, 38.1, 38.6, 38.3, 38.8,
    39.05, 39.5, 39.9, 39.35, 39.65, 39.15, 39.8, 39.4,
    40.25, 40.75, 40.05, 40.55, 40.35, 40.85, 40.15, 40.65,
    41.45, 41.95, 41.2, 41.7, 41.1, 41.6, 41.3, 41.8,
    42.05, 42.5, 42.9, 42.35, 42.65, 42.15, 42.8, 42.4,
    43.25, 43.75, 43.05, 43.55, 43.35, 43.85, 43.15, 43.65,
    44.45, 44.95, 44.2, 44.7, 44.1, 44.6, 44.3, 44.8,
    45.05, 45.5, 45.9, 45.35, 45.65, 45.15, 45.8, 45.4,
    46.25, 46.75, 46.05, 46.55, 46.35, 46.85, 46.15, 46.65,
    47.45, 47.95, 47.2, 47.7, 47.1, 47.6, 47.3, 47.8,
    48.05, 48.5, 48.9, 48.35, 48.65, 48.15, 48.8, 48.4,
    49.25, 49.75, 49.05, 49.55, 49.35, 49.85, 49.15, 49.65,
    # third pass, low-angle region
    0.12, 0.58, 0.33, 0.87, 0.46, 0.72,
    1.28, 1.81, 1.07, 1.63, 1.39, 1.94,
    2.12, 2.58, 2.33, 2.87, 2.46, 2.72,
    3.28, 3.81, 3.07, 3.63, 3.39, 3.94,
    4.12, 4.58, 4.33, 4.87, 4.46, 4.72,
    5.28, 5.81, 5.07, 5.63, 5.39, 5.94,
    6.12, 6.58, 6.33, 6.87, 6.46, 6.72,
    7.28, 7.81, 7.07, 7.63, 7.39, 7.94,
    8.12, 8.58, 8.33, 8.87, 8.46, 8.72,
    9.28, 9.81, 9.07, 9.63, 9.39, 9.94,
    10.12, 10.58, 10.33, 10.87, 10.46, 10.72,
    11.28, 11.81, 11.07, 11.63, 11.39, 11.94,
    12.12, 12.58, 12.33, 12.87, 12.46, 12.72,
    13.28, 13.81, 13.07, 13.63, 13.39, 13.94,
    14.12, 14.58, 14.33, 14.87, 14.46, 14.72,
]
green_y = [
    0.21, 0.08, 0.34, 0.15, 0.42, 0.27, 0.03, 0.38, 0.18, 0.31, 0.11, 0.25,
    0.30, 0.13, 0.24, 0.45, 0.06, 0.36, 0.19, 0.28, 0.40, 0.09, 0.22, 0.33,
    0.17, 0.39, 0.26, 0.04, 0.31, 0.14, 0.46, 0.23, 0.10, 0.35, 0.28, 0.20,
    0.35, 0.22, 0.07, 0.29, 0.18, 0.43, 0.12, 0.32, 0.25, 0.02, 0.38, 0.16,
    0.26, 0.44, 0.11, 0.20, 0.37, 0.05, 0.30, 0.16, 0.41, 0.24, 0.13, 0.34,
    0.12, 0.28, 0.40, 0.23, 0.09, 0.33, 0.19, 0.47, 0.06, 0.27, 0.36, 0.15,
    0.39, 0.16, 0.30, 0.10, 0.25, 0.37, 0.04, 0.21, 0.32, 0.14, 0.43, 0.26,
    0.23, 0.07, 0.32, 0.16, 0.44, 0.25, 0.05, 0.36, 0.20, 0.29, 0.12, 0.27,
    0.28, 0.14, 0.22, 0.43, 0.07, 0.34, 0.21, 0.30, 0.41, 0.10, 0.24, 0.35,
    0.19, 0.37, 0.24, 0.05, 0.33, 0.12, 0.44, 0.25, 0.09, 0.36, 0.29, 0.18,
    0.33, 0.24, 0.08, 0.27, 0.20, 0.41, 0.13, 0.30, 0.23, 0.03, 0.39, 0.17,
    0.28, 0.42, 0.12, 0.22, 0.35, 0.06, 0.31, 0.18, 0.43, 0.22, 0.14, 0.32,
    0.14, 0.26, 0.38, 0.25, 0.10, 0.31, 0.21, 0.45, 0.07, 0.29, 0.34, 0.16,
    0.37, 0.17, 0.28, 0.11, 0.26, 0.39, 0.05, 0.22, 0.30, 0.15, 0.41, 0.24,
    0.21, 0.08, 0.34, 0.15, 0.42, 0.27, 0.03, 0.38, 0.18, 0.31, 0.11, 0.25,
    0.30, 0.13, 0.24, 0.45, 0.06, 0.36, 0.19, 0.28, 0.40, 0.09, 0.22, 0.33,
    0.17, 0.39, 0.26, 0.04, 0.31, 0.14, 0.46, 0.23, 0.10, 0.35, 0.28, 0.20,
    0.35, 0.22, 0.07, 0.29, 0.18, 0.43, 0.12, 0.32, 0.25, 0.02, 0.38, 0.16,
    0.26, 0.44, 0.11, 0.20, 0.37, 0.05, 0.30, 0.16, 0.41, 0.24, 0.13, 0.34,
    0.12, 0.28, 0.40, 0.23, 0.09, 0.33, 0.19, 0.47, 0.06, 0.27, 0.36, 0.15,
    0.39, 0.16, 0.30, 0.10, 0.25, 0.37, 0.04, 0.21, 0.32, 0.14, 0.43, 0.26,
    0.23, 0.07, 0.32, 0.16, 0.44, 0.25, 0.05, 0.36, 0.20, 0.29, 0.12, 0.27,
    0.28, 0.14, 0.22, 0.43, 0.07, 0.34, 0.21, 0.30, 0.41, 0.10, 0.24, 0.35,
    0.19, 0.37, 0.24, 0.05, 0.33, 0.12, 0.44, 0.25, 0.09, 0.36, 0.29, 0.18,
    0.33, 0.24, 0.08, 0.27, 0.20, 0.41, 0.13, 0.30, 0.23, 0.03, 0.39, 0.17,
    0.28, 0.42, 0.12, 0.22, 0.35, 0.06, 0.31, 0.18, 0.43, 0.22, 0.14, 0.32,
    0.14, 0.26, 0.38, 0.25, 0.10, 0.31, 0.21, 0.45, 0.07, 0.29, 0.34, 0.16,
    0.37, 0.17, 0.28, 0.11, 0.26, 0.39, 0.05, 0.22, 0.30, 0.15, 0.41, 0.24,
    0.21, 0.08, 0.34, 0.15, 0.42, 0.27, 0.03, 0.38, 0.18, 0.31, 0.11, 0.25,
    0.30, 0.13, 0.24, 0.45, 0.06, 0.36, 0.19, 0.28, 0.40, 0.09, 0.22, 0.33,
    0.17, 0.39, 0.26, 0.04, 0.31, 0.14, 0.46, 0.23, 0.10, 0.35, 0.28, 0.20,
    0.35, 0.22, 0.07, 0.29, 0.18, 0.43, 0.12, 0.32, 0.25, 0.02, 0.38, 0.16,
    0.26, 0.44, 0.11, 0.20, 0.37, 0.05, 0.30, 0.16, 0.41, 0.24, 0.13, 0.34,
    0.12, 0.28, 0.40, 0.23, 0.09, 0.33, 0.19, 0.47, 0.06, 0.27, 0.36, 0.15,
    0.39, 0.16, 0.30, 0.10, 0.25, 0.37, 0.04, 0.21, 0.32, 0.14, 0.43, 0.26,
    0.23, 0.07, 0.32, 0.16, 0.44, 0.25, 0.05, 0.36, 0.20, 0.29, 0.12, 0.27,
    0.28, 0.14, 0.22, 0.43, 0.07, 0.34, 0.21, 0.30, 0.41, 0.10, 0.24, 0.35,
    0.19, 0.37, 0.24, 0.05, 0.33, 0.12, 0.44, 0.25, 0.09, 0.36, 0.29, 0.18,
    0.33, 0.24, 0.08, 0.27, 0.20, 0.41, 0.13, 0.30, 0.23, 0.03, 0.39, 0.17,
    0.28, 0.42, 0.12, 0.22, 0.35, 0.06, 0.31, 0.18, 0.43, 0.22, 0.14, 0.32,
    0.14, 0.26, 0.38, 0.25, 0.10, 0.31, 0.21, 0.45, 0.07, 0.29, 0.34, 0.16,
    0.37, 0.17, 0.28, 0.11, 0.26, 0.39, 0.05, 0.22, 0.30, 0.15, 0.41, 0.24,
    0.21, 0.08, 0.34, 0.15, 0.42, 0.27, 0.03, 0.38, 0.18, 0.31, 0.11, 0.25,
    0.30, 0.13, 0.24, 0.45, 0.06, 0.36, 0.19, 0.28, 0.40, 0.09, 0.22, 0.33,
    0.17, 0.39, 0.26, 0.04, 0.31, 0.14, 0.46, 0.23, 0.10, 0.35, 0.28, 0.20,
    0.35, 0.22, 0.07, 0.29, 0.18, 0.43, 0.12, 0.32, 0.25, 0.02, 0.38, 0.16,
    0.26, 0.44, 0.11, 0.20, 0.37, 0.05, 0.30, 0.16, 0.41, 0.24, 0.13, 0.34,
    0.12, 0.28, 0.40, 0.23, 0.09, 0.33, 0.19, 0.47, 0.06, 0.27, 0.36, 0.15,
    0.39, 0.16, 0.30, 0.10, 0.25, 0.37, 0.04, 0.21, 0.32, 0.14, 0.43, 0.26,
    0.23, 0.07, 0.32, 0.16, 0.44, 0.25, 0.05, 0.36, 0.20, 0.29, 0.12, 0.27,
    0.60, 0.67, 0.58, 0.75, 0.52, 0.50, 0.55, 0.56, 0.58, 0.53, 0.56, 0.55,
    0.57, 0.54, 0.52, 0.55, 0.53, 0.50, 0.55, 0.53, 0.49, 0.50,
    0.19, 0.33, 0.07, 0.26, 0.40, 0.14, 0.29, 0.22,
    0.28, 0.12, 0.37, 0.21, 0.05, 0.31, 0.17, 0.43,
    0.09, 0.24, 0.35, 0.16, 0.30, 0.02, 0.27, 0.38,
    0.32, 0.20, 0.11, 0.41, 0.25, 0.18, 0.34, 0.06,
    0.15, 0.39, 0.27, 0.08, 0.21, 0.36, 0.12, 0.30,
    0.20, 0.31, 0.06, 0.27, 0.42, 0.13, 0.28, 0.23,
    0.26, 0.11, 0.38, 0.19, 0.04, 0.33, 0.16, 0.44,
    0.10, 0.25, 0.33, 0.17, 0.29, 0.03, 0.26, 0.40,
    0.31, 0.21, 0.12, 0.39, 0.24, 0.19, 0.35, 0.07,
    0.16, 0.37, 0.28, 0.09, 0.22, 0.34, 0.13, 0.32,
    0.19, 0.33, 0.07, 0.26, 0.40, 0.14, 0.29, 0.22,
    0.28, 0.12, 0.37, 0.21, 0.05, 0.31, 0.17, 0.43,
    0.09, 0.24, 0.35, 0.16, 0.30, 0.02, 0.27, 0.38,
    0.32, 0.20, 0.11, 0.41, 0.25, 0.18, 0.34, 0.06,
    0.15, 0.39, 0.27, 0.08, 0.21, 0.36, 0.12, 0.30,
    0.20, 0.31, 0.06, 0.27, 0.42, 0.13, 0.28, 0.23,
    0.26, 0.11, 0.38, 0.19, 0.04, 0.33, 0.16, 0.44,
    0.10, 0.25, 0.33, 0.17, 0.29, 0.03, 0.26, 0.40,
    0.31, 0.21, 0.12, 0.39, 0.24, 0.19, 0.35, 0.07,
    0.16, 0.37, 0.28, 0.09, 0.22, 0.34, 0.13, 0.32,
    0.19, 0.33, 0.07, 0.26, 0.40, 0.14, 0.29, 0.22,
    0.28, 0.12, 0.37, 0.21, 0.05, 0.31, 0.17, 0.43,
    0.09, 0.24, 0.35, 0.16, 0.30, 0.02, 0.27, 0.38,
    0.32, 0.20, 0.11, 0.41, 0.25, 0.18, 0.34, 0.06,
    0.15, 0.39, 0.27, 0.08, 0.21, 0.36, 0.12, 0.30,
    0.20, 0.31, 0.06, 0.27, 0.42, 0.13, 0.28, 0.23,
    0.26, 0.11, 0.38, 0.19, 0.04, 0.33, 0.16, 0.44,
    0.10, 0.25, 0.33, 0.17, 0.29, 0.03, 0.26, 0.40,
    0.31, 0.21, 0.12, 0.39, 0.24, 0.19, 0.35, 0.07,
    0.16, 0.37, 0.28, 0.09, 0.22, 0.34, 0.13, 0.32,
    0.19, 0.33, 0.07, 0.26, 0.40, 0.14, 0.29, 0.22,
    0.28, 0.12, 0.37, 0.21, 0.05, 0.31, 0.17, 0.43,
    0.09, 0.24, 0.35, 0.16, 0.30, 0.02, 0.27, 0.38,
    0.32, 0.20, 0.11, 0.41, 0.25, 0.18, 0.34, 0.06,
    0.15, 0.39, 0.27, 0.08, 0.21, 0.36, 0.12, 0.30,
    0.20, 0.31, 0.06, 0.27, 0.42, 0.13, 0.28, 0.23,
    0.26, 0.11, 0.38, 0.19, 0.04, 0.33, 0.16, 0.44,
    0.10, 0.25, 0.33, 0.17, 0.29, 0.03, 0.26, 0.40,
    0.31, 0.21, 0.12, 0.39, 0.24, 0.19, 0.35, 0.07,
    0.16, 0.37, 0.28, 0.09, 0.22, 0.34, 0.13, 0.32,
    0.19, 0.33, 0.07, 0.26, 0.40, 0.14, 0.29, 0.22,
    0.28, 0.12, 0.37, 0.21, 0.05, 0.31, 0.17, 0.43,
    0.09, 0.24, 0.35, 0.16, 0.30, 0.02, 0.27, 0.38,
    0.32, 0.20, 0.11, 0.41, 0.25, 0.18, 0.34, 0.06,
    0.15, 0.39, 0.27, 0.08, 0.21, 0.36, 0.12, 0.30,
    0.20, 0.31, 0.06, 0.27, 0.42, 0.13, 0.28, 0.23,
    0.26, 0.11, 0.38, 0.19, 0.04, 0.33, 0.16, 0.44,
    0.10, 0.25, 0.33, 0.17, 0.29, 0.03, 0.26, 0.40,
    0.31, 0.21, 0.12, 0.39, 0.24, 0.19, 0.35, 0.07,
    0.16, 0.37, 0.28, 0.09, 0.22, 0.34, 0.13, 0.32,
    0.24, 0.36, 0.13, 0.41, 0.06, 0.29,
    0.33, 0.18, 0.44, 0.10, 0.27, 0.38,
    0.15, 0.42, 0.22, 0.35, 0.01, 0.31,
    0.24, 0.36, 0.13, 0.41, 0.06, 0.29,
    0.33, 0.18, 0.44, 0.10, 0.27, 0.38,
    0.15, 0.42, 0.22, 0.35, 0.01, 0.31,
    0.24, 0.36, 0.13, 0.41, 0.06, 0.29,
    0.33, 0.18, 0.44, 0.10, 0.27, 0.38,
    0.15, 0.42, 0.22, 0.35, 0.01, 0.31,
    0.24, 0.36, 0.13, 0.41, 0.06, 0.29,
    0.33, 0.18, 0.44, 0.10, 0.27, 0.38,
    0.15, 0.42, 0.22, 0.35, 0.01, 0.31,
    0.24, 0.36, 0.13, 0.41, 0.06, 0.29,
    0.33, 0.18, 0.44, 0.10, 0.27, 0.38,
    0.15, 0.42, 0.22, 0.35, 0.01, 0.31,
]

assert len(blue_x) == len(blue_y), (len(blue_x), len(blue_y))
assert len(green_x) == len(green_y), (len(green_x), len(green_y))

MRAD = 1e-3
signal = pd.DataFrame({"theta_e": [v * MRAD for v in blue_x],
                       "theta_mu": [v * MRAD for v in blue_y]})
background = pd.DataFrame({"theta_e": [v * MRAD for v in green_x],
                           "theta_mu": [v * MRAD for v in green_y]})
fit = pd.DataFrame({"theta_e": [v * MRAD for v in fit_x],
                    "theta_mu": [v * MRAD for v in fit_y]})

# ---------------------------------------------------------------------------
# Figure
# ---------------------------------------------------------------------------
sns.set_style("ticks")
plt.rcParams["font.family"] = ["Liberation Sans", "DejaVu Sans"]
plt.rcParams["mathtext.fontset"] = "custom"
plt.rcParams["mathtext.rm"] = "Liberation Sans"
plt.rcParams["mathtext.it"] = "Liberation Sans:italic"

W, H = 785, 414
fig = plt.figure(figsize=(W / 100, H / 100), dpi=100, facecolor="#fdf3d8")
fig.patches.append(Rectangle((17 / W, 0), 1 - 17 / W, 1 - 5 / H,
                             transform=fig.transFigure, facecolor="white",
                             edgecolor="none", zorder=-5))

ax = fig.add_axes([99 / W, 31 / H, 675 / W, 356 / H])
ax.set_facecolor("white")

sns.scatterplot(data=signal, x="theta_e", y="theta_mu", ax=ax, color="#0606ec",
                s=18, linewidth=0, marker="o", zorder=2, legend=False)
sns.scatterplot(data=background, x="theta_e", y="theta_mu", ax=ax, color="#1cf41c",
                s=18, linewidth=0, marker="o", zorder=3, legend=False)
sns.lineplot(data=fit, x="theta_e", y="theta_mu", ax=ax, sort=False, estimator=None,
             color="#e8161e", linewidth=1.3, zorder=4)

ax.set_xlim(0, 0.05)
ax.set_ylim(0, 0.005)
ax.set_xlabel("")
ax.set_ylabel("")

fmt = FuncFormatter(lambda v, _: f"{v:.6g}")
ax.xaxis.set_major_locator(MultipleLocator(0.01))
ax.xaxis.set_minor_locator(MultipleLocator(0.002))
ax.yaxis.set_major_locator(MultipleLocator(0.0005))
ax.yaxis.set_minor_locator(MultipleLocator(0.0001))
ax.xaxis.set_major_formatter(fmt)
ax.yaxis.set_major_formatter(fmt)

tick_col = "#6a6a6a"
ax.tick_params(axis="both", which="both", direction="in", color=tick_col,
               width=0.9, top=False, right=False, labelcolor="#1a1a1a")
ax.tick_params(axis="y", which="major", length=13.5, pad=4.5, labelsize=10)
ax.tick_params(axis="y", which="minor", length=6.5)
ax.tick_params(axis="x", which="major", length=8.5, pad=2.5, labelsize=9.5)
ax.tick_params(axis="x", which="minor", length=4.3)
for side in ["left", "bottom", "top", "right"]:
    ax.spines[side].set_color("#8a8a8a")
    ax.spines[side].set_linewidth(1.0)
    ax.spines[side].set_visible(True)

# keep the last x label inside the canvas
fig.canvas.draw()
for tick in ax.xaxis.get_major_ticks():
    if abs(tick.get_loc() - 0.05) < 1e-9:
        tick.label1.set_transform(tick.label1.get_transform()
                                  + ScaledTranslation(-3 / 100, 0, fig.dpi_scale_trans))

# Axis titles (ROOT style: placed at the far end of each axis)
fig.text(27 / W, 1 - 27 / H, r"$\mathregular{θ_{μ}}$ [rad]", rotation=90,
         ha="center", va="top", fontsize=9, color="#1a1a1a")
ax.text(1.0, -0.070, r"$\mathregular{θ_{e}}$ [rad]", transform=ax.transAxes,
        ha="right", va="baseline", fontsize=9, color="#1a1a1a")

# Resolution annotation
fig.text(405 / W, 1 - 65 / H, r"$\sigma\ \ =\ \ 30\ \ -\ \ 40\ \ \mu m$", fontsize=29,
         math_fontfamily="stix", ha="left", va="baseline", color="black")

fig.savefig("out.png", dpi=100, facecolor=fig.get_facecolor())
